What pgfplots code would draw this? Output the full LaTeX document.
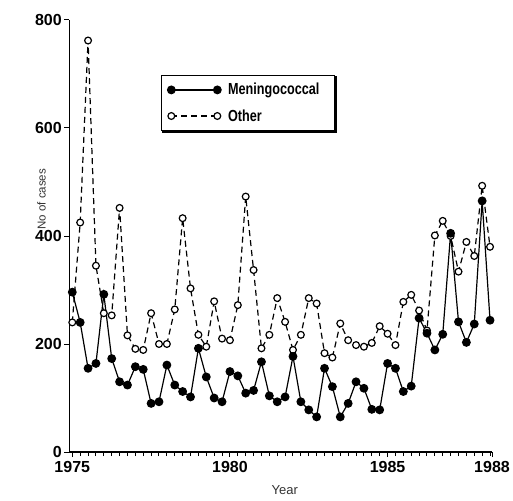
\documentclass[border=0pt]{standalone}
\usepackage{fontspec}
\setmainfont{Liberation Sans}
\newfontfamily\condfont{Liberation Sans}[FakeStretch=0.79]
\usepackage{pgfplots}
\pgfplotsset{compat=1.18}

\pgfplotstableread{
t other
0 240
1 425
2 762
3 345
4 257
5 253
6 452
7 216
8 191
9 189
10 257
11 200
12 200
13 264
14 433
15 303
16 217
17 195
18 279
19 210
20 207
21 272
22 473
23 337
24 192
25 217
26 285
27 241
28 189
29 217
30 285
31 275
32 183
33 175
34 238
35 207
36 198
37 195
38 202
39 233
40 219
41 198
42 278
43 291
44 262
45 225
46 401
47 428
48 400
49 334
50 389
51 363
52 493
53 380
}\othertab

\pgfplotstableread{
t men
0 296
1 240
2 155
3 164
4 292
5 173
6 130
7 124
8 158
9 153
10 90
11 93
12 161
13 124
14 112
15 102
16 192
17 139
18 100
19 93
20 149
21 141
22 109
23 114
24 167
25 104
26 93
27 102
28 177
29 93
30 78
31 65
32 155
33 121
34 65
35 90
36 130
37 118
38 79
39 78
40 164
41 155
42 112
43 122
44 248
45 220
46 189
47 218
48 405
49 241
50 203
51 237
52 465
53 244
}\mentab

\begin{document}
\begin{tikzpicture}[x=1pt,y=1pt]
\useasboundingbox (-69.3,-48) rectangle (443.7,452);
\begin{axis}[
  scale only axis, width=422.7pt, height=432pt,
  xmin=-0.38, xmax=53.25, ymin=0, ymax=800,
  clip=false,
  axis lines=left,
  axis line style={line width=1.3pt, -},
  xtick={0,20,40,53.25},
  xticklabels={1975,1980,1985,1988},
  minor xtick={1,2,...,53},
  ytick={0,200,400,600,800},
  tick style={black, line width=1pt},
  tick align=outside,
  major tick length=5pt, minor tick length=4pt,
  ticklabel style={font=\fontsize{16}{16}\selectfont\bfseries},
  /pgf/number format/assume math mode=true,
  xticklabel style={yshift=-1pt},
  yticklabel style={xshift=1pt},
  xlabel={Year},
  xlabel style={at={(axis description cs:0.51,-0.088)}, anchor=center, font=\fontsize{13}{13}\selectfont, text=black!80},
  ylabel={No of cases},
  ylabel style={at={(axis description cs:-0.066,0.585)}, anchor=center, font=\fontsize{11.5}{11.5}\selectfont, text=black!80},
  reverse legend,
  legend cell align=left,
  legend style={name=leg, at={(0.217,0.873)}, anchor=north west, draw=black, line width=1pt, fill=white,
    inner xsep=6pt, inner ysep=6pt, row sep=9pt,
    /tikz/every odd column/.append style={column sep=5pt},
    font=\condfont\bfseries\fontsize{16}{16}\selectfont},
  legend image code/.code={\draw[#1] plot coordinates {(0pt,0pt) (46pt,0pt)};},
]
\addplot[black, line width=1.2pt, dash pattern=on 6pt off 4pt, mark=*, mark size=3.4pt,
  mark options={solid, fill=white, draw=black, line width=1.2pt}] table[x=t,y=other] {\othertab};
\addlegendentry{Other}
\addplot[black, line width=1.2pt, mark=*, mark size=3.8pt,
  mark options={solid, fill=black}] table[x=t,y=men] {\mentab};
\addlegendentry{Meningococcal\hphantom{x}}
\end{axis}
\draw[line width=2.6pt, line cap=rect] ([xshift=2pt,yshift=-1pt]leg.south west) -- ([xshift=1pt,yshift=-1pt]leg.south east) -- ([xshift=1pt,yshift=-2pt]leg.north east);
\end{tikzpicture}
\end{document}
